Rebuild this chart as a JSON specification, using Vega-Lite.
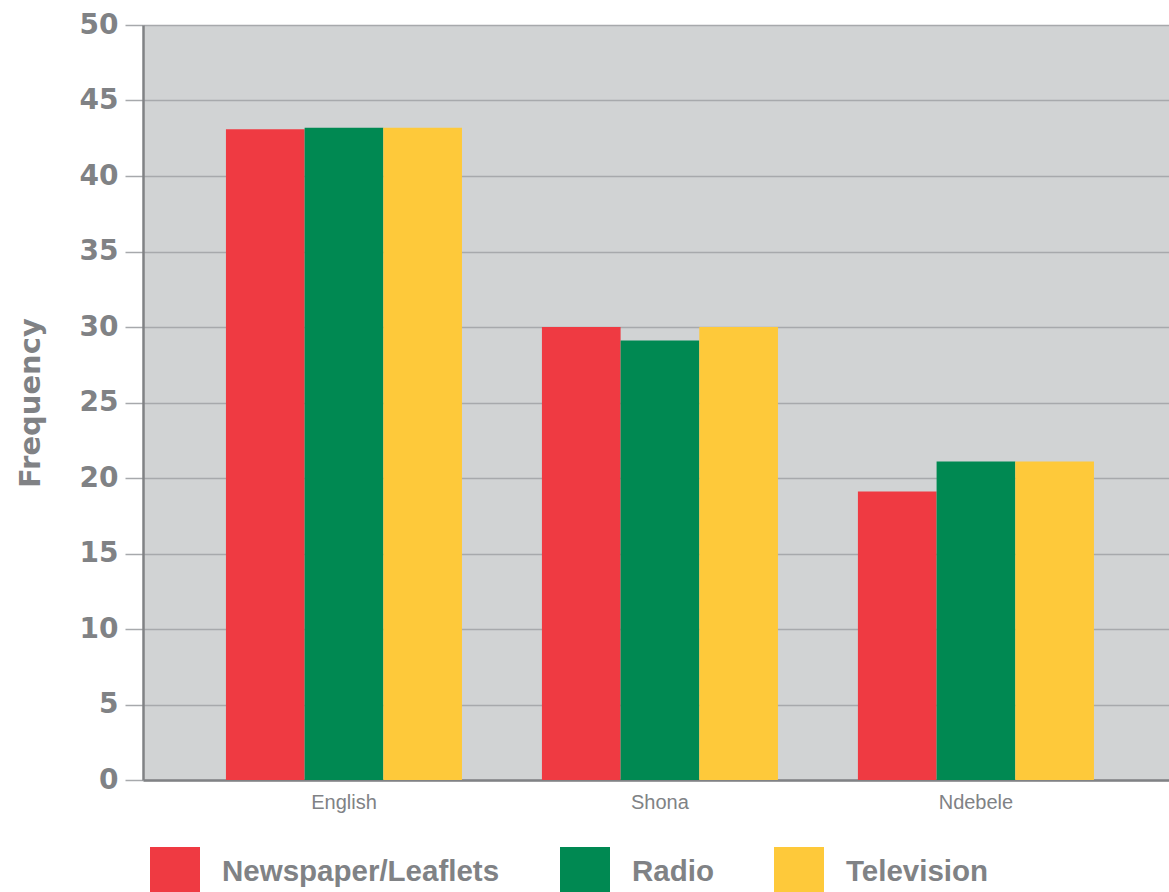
{
  "$schema": "https://vega.github.io/schema/vega-lite/v6.json",
  "autosize": {"type": "none"},
  "width": 1026,
  "height": 755,
  "padding": {"left": 143, "top": 25, "right": 0, "bottom": 112},
  "background": "#ffffff",
  "config": {
    "view": {"fill": "#d1d3d4", "stroke": null},
    "font": "Liberation Sans"
  },
  "data": {
    "values": [
      {"language": "English", "source": "Newspaper/Leaflets", "frequency": 43.1},
      {"language": "English", "source": "Radio", "frequency": 43.2},
      {"language": "English", "source": "Television", "frequency": 43.2},
      {"language": "Shona", "source": "Newspaper/Leaflets", "frequency": 30.0},
      {"language": "Shona", "source": "Radio", "frequency": 29.1},
      {"language": "Shona", "source": "Television", "frequency": 30.0},
      {"language": "Ndebele", "source": "Newspaper/Leaflets", "frequency": 19.1},
      {"language": "Ndebele", "source": "Radio", "frequency": 21.1},
      {"language": "Ndebele", "source": "Television", "frequency": 21.1}
    ]
  },
  "mark": {"type": "bar", "stroke": null},
  "encoding": {
    "x": {
      "field": "language",
      "type": "nominal",
      "sort": ["English", "Shona", "Ndebele"],
      "scale": {"paddingInner": 0.253, "paddingOuter": 0.25, "align": 0.525},
      "axis": {
        "title": null,
        "labelAngle": 0,
        "labelFontSize": 20,
        "labelColor": "#808285",
        "labelFont": "Liberation Sans",
        "labelPadding": 12,
        "ticks": false,
        "domainColor": "#808285",
        "domainWidth": 2.5,
        "grid": false
      }
    },
    "xOffset": {
      "field": "source",
      "type": "nominal",
      "sort": ["Newspaper/Leaflets", "Radio", "Television"],
      "scale": {"paddingInner": 0, "paddingOuter": 0}
    },
    "y": {
      "field": "frequency",
      "type": "quantitative",
      "scale": {"domain": [0, 50], "nice": false},
      "axis": {
        "title": "Frequency",
        "titleFontSize": 29,
        "titleFontWeight": "bold",
        "titleColor": "#808285",
        "titleFont": "DejaVu Sans",
        "titlePadding": 34,
        "values": [0, 5, 10, 15, 20, 25, 30, 35, 40, 45, 50],
        "labelFontSize": 28,
        "labelFontWeight": "bold",
        "labelColor": "#808285",
        "labelFont": "DejaVu Sans",
        "labelPadding": 7,
        "tickSize": 18,
        "tickColor": "#a7a9ac",
        "tickWidth": 1.5,
        "domainColor": "#808285",
        "domainWidth": 2.5,
        "grid": true,
        "gridColor": "#a7a9ac",
        "gridWidth": 1.5
      }
    },
    "color": {
      "field": "source",
      "type": "nominal",
      "sort": ["Newspaper/Leaflets", "Radio", "Television"],
      "scale": {
        "domain": ["Newspaper/Leaflets", "Radio", "Television"],
        "range": ["#ef3a42", "#008952", "#fec93a"]
      },
      "legend": {
        "title": null,
        "orient": "none",
        "direction": "horizontal",
        "legendX": 7,
        "legendY": 822,
        "symbolType": "square",
        "symbolSize": 2500,
        "symbolStrokeWidth": 0,
        "symbolOpacity": 1,
        "labelFontSize": 29.5,
        "labelFontWeight": "bold",
        "labelColor": "#808285",
        "labelFont": "Liberation Sans",
        "labelOffset": 22,
        "columnPadding": 60,
        "labelLimit": 400
      }
    }
  }
}
